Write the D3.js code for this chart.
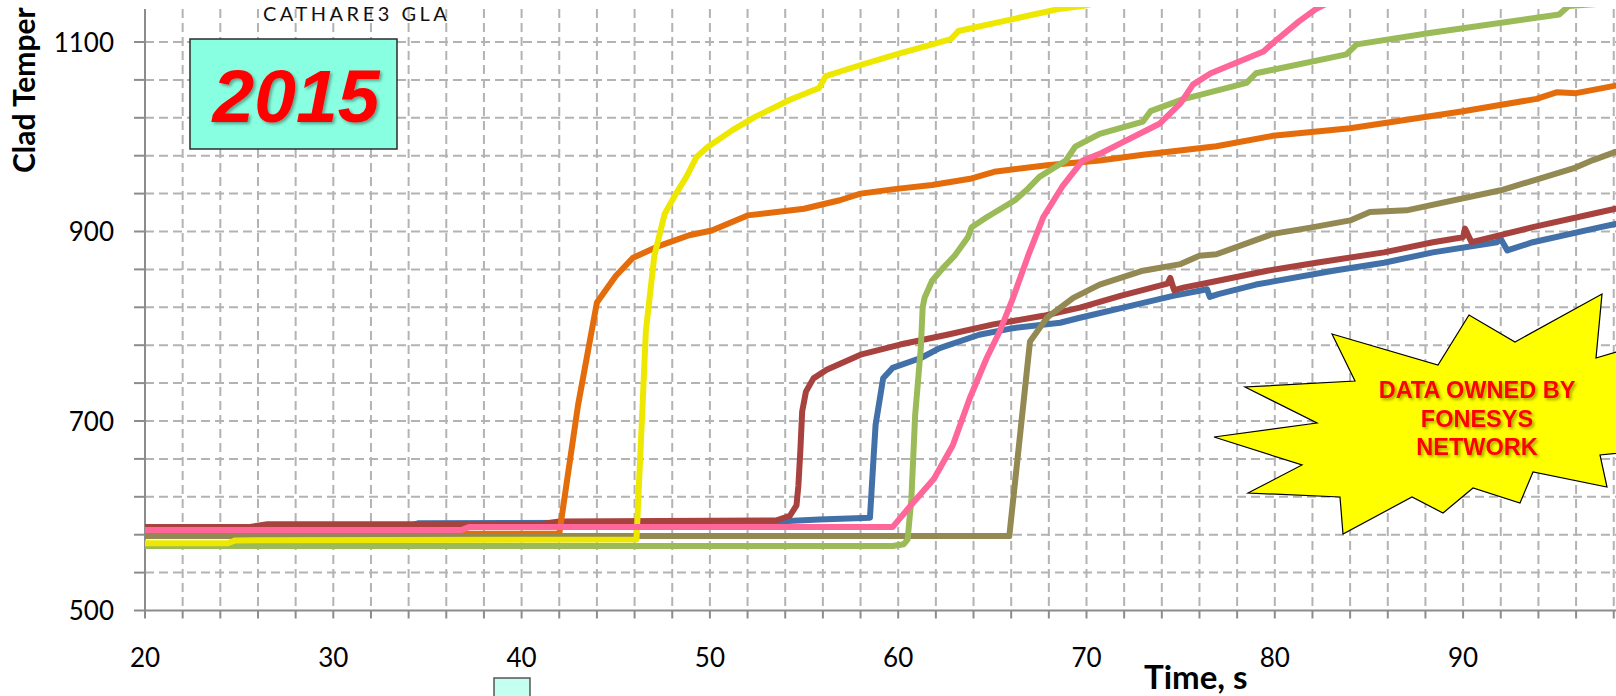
<!DOCTYPE html>
<html>
<head>
<meta charset="utf-8">
<script src="https://cdn.jsdelivr.net/npm/d3@7"></script>
<style>
  html, body { margin: 0; padding: 0; background: #fff; }
  svg { display: block; }
  .tick-label { font-family: 'Lato'; font-size: 26px; fill: #000; }
  .axis-title { font-family: 'Lato'; font-weight: 700; font-size: 30px; fill: #000; }
</style>
</head>
<body>
<div id="chart"></div>
<script>
// time ticks (s) and temperature ticks (K)
const xTickLabels = [20, 30, 40, 50, 60, 70, 80, 90];
const yTickLabels = [500, 700, 900, 1100];

// [time s, clad temperature K]
const blueRun = [[20,586],[33.5,586],[34.5,592],[52.7,593],[55.8,596],[58.5,598],[58.7,664],[58.8,696],[59.2,745],[59.7,756],[61.2,766.5],[62.2,777],[64.3,791],[66.1,798],[68.6,803.7],[69.65,809],[72,820],[74.6,832],[76.4,839],[76.55,831],[77.0,834],[79.0,844],[83.1,858.6],[85.8,867],[88.4,878],[91.8,888.7],[91.95,894],[92.35,880],[93.7,888.7],[97.3,904.6],[98.1,908],[100,913]];
const redRun = [[20,588],[25.5,588],[26.5,591],[41,591],[42,594],[53.5,595],[54.25,600],[54.6,611],[54.7,632],[54.8,667.5],[54.9,710],[55.1,731],[55.5,745],[56.2,754],[58.0,770],[60.1,780.7],[62.6,791],[65.05,802],[67.7,811],[69.65,819.6],[71.8,832],[74.3,845],[74.45,851],[74.65,838],[75.2,841],[76.0,844],[79.6,858.6],[82.2,867],[85.8,878],[88.4,888.7],[90.0,894],[90.1,903],[90.45,888.7],[93.7,904.6],[96.9,918.7],[98.1,924],[100,929]];
const orangeRun = [[20,581],[42.0,581],[43.0,717],[44.0,825],[45.0,853],[45.9,872],[47.2,884],[48.9,896],[50.1,901],[52.0,917],[55.0,924],[56.9,933],[58.0,940],[59.9,945],[61.8,949],[63.9,956],[65.1,963],[67.9,970],[70.7,975],[73.0,981],[76.9,990],[79.9,1001],[84.0,1009],[90.0,1027],[93.9,1040],[95.0,1047],[96.0,1046],[98.1,1054],[100,1060]];
const oliveRun = [[20,578.5],[65.9,578.5],[67.0,784],[67.9,809],[69.3,830],[70.7,844],[73.0,858.6],[75.0,865.6],[76.0,874.5],[76.9,876],[79.9,897.5],[82.05,904.6],[84.0,911.7],[85.05,920.5],[87.0,922.3],[92.0,943.5],[95.85,966.5],[96.9,975.4],[98.1,984],[100,992]];
const greenRun = [[20,568],[59.7,568],[60.3,570],[60.5,575],[60.7,618],[60.9,706],[61.2,777],[61.3,820],[61.4,830],[61.8,848],[62.4,862],[63.0,874.5],[63.7,894],[63.9,904.6],[64.7,915],[66.2,933],[66.8,943.5],[67.5,957.7],[68.9,975],[69.4,989.5],[70.7,1003],[73.0,1016],[73.4,1027],[75.1,1039.5],[78.5,1056.8],[79.0,1067],[83.8,1087],[84.35,1097.5],[88.4,1110],[95.1,1129],[95.6,1138],[97.1,1140],[100,1146]];
const yellowRun = [[20,571],[24.4,571],[24.8,574],[46.1,575],[46.4,706],[46.6,795],[46.9,848],[47.05,874.5],[47.6,918.7],[48.2,940],[48.75,957.7],[49.3,979],[49.9,989.5],[51.2,1007],[52.4,1021],[54.25,1039],[55.8,1051.5],[56.15,1064],[58.05,1076],[59.9,1087],[62.8,1103],[63.2,1111.6],[65.6,1122],[68.5,1134.7],[69.8,1138],[72,1148]];
const pinkRun = [[20,585],[36.8,585],[37.2,588],[59.7,588],[60.8,614],[61.9,639],[62.9,674.5],[63.8,724],[64.7,766.5],[65.4,795],[66.1,830],[66.9,874.5],[67.7,915],[68.7,947],[69.8,975],[70.7,982],[73.9,1014],[75.0,1035.5],[75.65,1055],[76.6,1067],[79.4,1090],[79.9,1099],[81.3,1122],[82.2,1135],[82.9,1142],[84,1155]];

const runs = [blueRun, redRun, orangeRun, oliveRun, greenRun, yellowRun, pinkRun];
const runColors = ["#4270A8", "#A8423F", "#E46C0A", "#938953", "#9BBB59", "#EEE800", "#FF6699"];

const width = 1616, height = 696;
const svg = d3.select("#chart").append("svg").attr("width", width).attr("height", height);

const x = d3.scaleLinear().domain([20, 100]).range([145, 145 + 80 * 18.83]);
const y = d3.scaleLinear().domain([500, 1100]).range([610.5, 42]);
const plotTop = 9;

const defs = svg.append("defs");
defs.append("clipPath").attr("id", "plotClip")
    .append("rect").attr("x", x(20)).attr("y", plotTop - 2).attr("width", width).attr("height", y(500) - plotTop + 2);
const shadow = defs.append("filter").attr("id", "shadow").attr("x", "-10%").attr("y", "-10%").attr("width", "130%").attr("height", "130%");
shadow.append("feDropShadow").attr("dx", 2).attr("dy", 2).attr("stdDeviation", 1.5).attr("flood-color", "#000").attr("flood-opacity", 0.35);

// dashed grid
const grid = svg.append("g").attr("stroke", "#B3B3B3").attr("stroke-width", 2).attr("stroke-dasharray", "9,5");
d3.range(22, 101, 2).forEach(t => {
    grid.append("line").attr("x1", x(t)).attr("x2", x(t)).attr("y1", plotTop).attr("y2", y(500));
});
d3.range(540, 1101, 40).forEach(v => {
    grid.append("line").attr("x1", x(20)).attr("x2", width).attr("y1", y(v)).attr("y2", y(v));
});

// axes
const axisCol = "#8C8C8C";
const axes = svg.append("g").attr("stroke", axisCol).attr("stroke-width", 2);
axes.append("line").attr("x1", x(20)).attr("x2", x(20)).attr("y1", plotTop).attr("y2", y(500) + 8);
axes.append("line").attr("x1", x(20) - 11).attr("x2", width).attr("y1", y(500)).attr("y2", y(500));
d3.range(540, 1101, 40).forEach(v => {
    axes.append("line").attr("x1", x(20) - 11).attr("x2", x(20)).attr("y1", y(v)).attr("y2", y(v));
});
d3.range(22, 101, 2).forEach(t => {
    axes.append("line").attr("x1", x(t)).attr("x2", x(t)).attr("y1", y(500)).attr("y2", y(500) + 8);
});

svg.selectAll(".ylab").data(yTickLabels).join("text")
    .attr("class", "tick-label").attr("x", 114).attr("y", d => y(d) + 9.5)
    .attr("text-anchor", "end").text(d => d);
svg.selectAll(".xlab").data(xTickLabels).join("text")
    .attr("class", "tick-label").attr("x", d => x(d)).attr("y", 667)
    .attr("text-anchor", "middle").text(d => d);

svg.append("text").attr("class", "axis-title")
    .attr("transform", "translate(35,173) rotate(-90)").text("Clad Temper");
svg.append("text").attr("class", "axis-title").attr("x", 1144).attr("y", 689)
    .style("font-size", "33px").text("Time, s");

// code label at the top edge
svg.append("text").attr("x", 263).attr("y", 21).attr("font-family", "Lato").attr("font-size", 20)
    .attr("letter-spacing", 3.5).attr("fill", "#111").text("CATHARE3 GLA");

// curves
const line = d3.line().x(d => x(d[0])).y(d => y(d[1]));
const curves = svg.append("g").attr("clip-path", "url(#plotClip)");
runs.forEach((r, i) => {
    curves.append("path").datum(r).attr("d", line)
        .attr("fill", "none").attr("stroke", runColors[i]).attr("stroke-width", 6)
        .attr("stroke-linejoin", "round");
});

// year box
svg.append("rect").attr("x", 190).attr("y", 39).attr("width", 207).attr("height", 110)
    .attr("fill", "#88FFE0").attr("stroke", "#2b2b2b").attr("stroke-width", 1.5);
svg.append("text").attr("x", 296).attr("y", 122).attr("text-anchor", "middle")
    .attr("font-family", "Liberation Sans").attr("font-weight", 700).attr("font-style", "italic")
    .attr("font-size", 75).attr("fill", "#FF0000").attr("filter", "url(#shadow)").text("2015");

// small box at the bottom
svg.append("rect").attr("x", 494).attr("y", 678).attr("width", 36).attr("height", 30)
    .attr("fill", "#C4FFF0").attr("stroke", "#555").attr("stroke-width", 1.5);

// ownership star
const star = [[1332,334],[1438,365],[1469,315],[1515,342],[1602,294],[1596,358],[1616,352],[1680,335],[1640,400],[1700,440],[1630,452],[1600,455],
              [1607,487],[1533,472],[1520,503],[1473,488],[1443,513],[1412,497],[1343,534],[1340,497],[1248,493],[1302,465],[1214,437],[1317,423],[1245,387],[1355,381]];
svg.append("polygon").attr("points", star.map(p => p.join(",")).join(" "))
    .attr("fill", "#FFFF00").attr("stroke", "#000").attr("stroke-width", 1.2);
const starText = svg.append("g").attr("font-family", "Liberation Sans").attr("font-weight", 700)
    .attr("font-size", 23.5).attr("fill", "#FF0000").attr("text-anchor", "middle").attr("filter", "url(#shadow)");
["DATA OWNED BY", "FONESYS", "NETWORK"].forEach((s, i) => {
    starText.append("text").attr("x", 1477).attr("y", 398 + i * 28.5).text(s);
});
</script>
</body>
</html>
